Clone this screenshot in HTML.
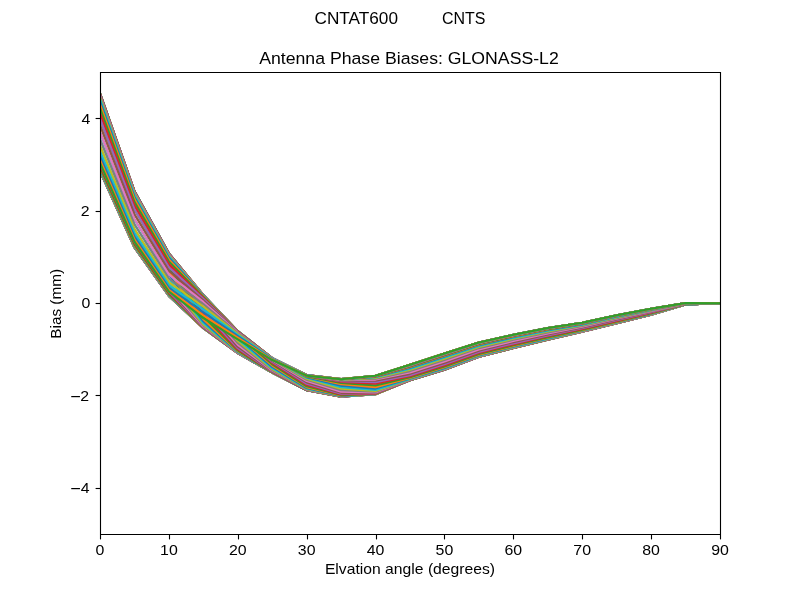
<!DOCTYPE html>
<html><head><meta charset="utf-8"><style>
html,body{margin:0;padding:0;background:#fff;}
svg{display:block;will-change:transform;}
text{font-family:"Liberation Sans", sans-serif;fill:#000;}
</style></head><body>
<svg width="800" height="600" viewBox="0 0 800 600">
<rect width="800" height="600" fill="#fff"/>
<g fill="none" stroke-width="2.083" stroke-linejoin="round" stroke-linecap="square">
<clipPath id="c"><rect x="100" y="72" width="620" height="462"/></clipPath>
<g clip-path="url(#c)">
<polyline points="100.00,162.92 134.44,241.57 168.89,291.52 203.33,318.09 237.78,339.36 272.22,360.05 306.67,375.67 341.11,379.22 375.56,375.76 410.00,364.81 444.44,353.56 478.89,342.55 513.33,334.80 547.78,328.05 582.22,322.75 616.67,315.35 651.11,308.74 685.56,303.04 720.00,303.20" stroke="#1f77b4"/>
<polyline points="100.00,165.15 134.44,243.19 168.89,292.74 203.33,320.42 237.78,341.29 272.22,360.74 306.67,375.92 341.11,379.31 375.56,375.78 410.00,364.80 444.44,353.55 478.89,342.54 513.33,334.79 547.78,328.04 582.22,322.74 616.67,315.34 651.11,308.74 685.56,303.04 720.00,303.20" stroke="#ff7f0e"/>
<polyline points="100.00,166.81 134.44,244.39 168.89,293.65 203.33,322.34 237.78,343.29 272.22,361.62 306.67,376.26 341.11,379.44 375.56,375.82 410.00,364.79 444.44,353.54 478.89,342.54 513.33,334.79 547.78,328.04 582.22,322.74 616.67,315.34 651.11,308.74 685.56,303.04 720.00,303.20" stroke="#2ca02c"/>
<polyline points="100.00,168.04 134.44,245.28 168.89,294.32 203.33,323.85 237.78,345.21 272.22,362.67 306.67,376.71 341.11,379.61 375.56,375.87 410.00,364.80 444.44,353.55 478.89,342.55 513.33,334.80 547.78,328.05 582.22,322.75 616.67,315.35 651.11,308.75 685.56,303.04 720.00,303.20" stroke="#d62728"/>
<polyline points="100.00,168.95 134.44,245.94 168.89,294.82 203.33,325.01 237.78,346.94 272.22,363.88 306.67,377.31 341.11,379.84 375.56,375.95 410.00,364.81 444.44,353.56 478.89,342.56 513.33,334.81 547.78,328.06 582.22,322.76 616.67,315.36 651.11,308.75 685.56,303.05 720.00,303.20" stroke="#9467bd"/>
<polyline points="100.00,169.61 134.44,246.42 168.89,295.19 203.33,325.89 237.78,348.41 272.22,365.19 306.67,378.08 341.11,380.16 375.56,376.06 410.00,364.83 444.44,353.59 478.89,342.59 513.33,334.84 547.78,328.08 582.22,322.78 616.67,315.37 651.11,308.77 685.56,303.05 720.00,303.20" stroke="#8c564b"/>
<polyline points="100.00,170.10 134.44,246.78 168.89,295.45 203.33,326.54 237.78,349.61 272.22,366.50 306.67,379.04 341.11,380.59 375.56,376.20 410.00,364.87 444.44,353.63 478.89,342.62 513.33,334.87 547.78,328.11 582.22,322.80 616.67,315.40 651.11,308.79 685.56,303.05 720.00,303.20" stroke="#e377c2"/>
<polyline points="100.00,170.46 134.44,247.03 168.89,295.65 203.33,327.02 237.78,350.55 272.22,367.75 306.67,380.19 341.11,381.16 375.56,376.40 410.00,364.92 444.44,353.68 478.89,342.67 513.33,334.92 547.78,328.16 582.22,322.84 616.67,315.43 651.11,308.81 685.56,303.06 720.00,303.20" stroke="#7f7f7f"/>
<polyline points="100.00,170.71 134.44,247.22 168.89,295.79 203.33,327.37 237.78,351.26 272.22,368.85 306.67,381.48 341.11,381.90 375.56,376.67 410.00,364.99 444.44,353.76 478.89,342.74 513.33,334.99 547.78,328.22 582.22,322.88 616.67,315.47 651.11,308.85 685.56,303.07 720.00,303.20" stroke="#bcbd22"/>
<polyline points="100.00,170.89 134.44,247.35 168.89,295.89 203.33,327.63 237.78,351.80 272.22,369.78 306.67,382.85 341.11,382.86 375.56,377.03 410.00,365.09 444.44,353.86 478.89,342.84 513.33,335.08 547.78,328.30 582.22,322.95 616.67,315.54 651.11,308.89 685.56,303.08 720.00,303.20" stroke="#17becf"/>
<polyline points="100.00,171.01 134.44,247.44 168.89,295.95 203.33,327.82 237.78,352.20 272.22,370.52 306.67,384.20 341.11,384.03 375.56,377.52 410.00,365.22 444.44,354.01 478.89,342.97 513.33,335.20 547.78,328.42 582.22,323.04 616.67,315.62 651.11,308.96 685.56,303.10 720.00,303.20" stroke="#1f77b4"/>
<polyline points="100.00,171.08 134.44,247.48 168.89,295.99 203.33,327.96 237.78,352.49 272.22,371.10 306.67,385.46 341.11,385.41 375.56,378.17 410.00,365.40 444.44,354.20 478.89,343.15 513.33,335.37 547.78,328.57 582.22,323.16 616.67,315.73 651.11,309.04 685.56,303.12 720.00,303.20" stroke="#ff7f0e"/>
<polyline points="100.00,171.10 134.44,247.50 168.89,296.00 203.33,328.06 237.78,352.70 272.22,371.54 306.67,386.55 341.11,386.94 375.56,379.01 410.00,365.64 444.44,354.47 478.89,343.39 513.33,335.61 547.78,328.78 582.22,323.33 616.67,315.88 651.11,309.16 685.56,303.15 720.00,303.20" stroke="#2ca02c"/>
<polyline points="100.00,171.08 134.44,247.48 168.89,295.99 203.33,328.13 237.78,352.86 272.22,371.86 306.67,387.46 341.11,388.53 375.56,380.08 410.00,365.97 444.44,354.82 478.89,343.72 513.33,335.92 547.78,329.06 582.22,323.56 616.67,316.09 651.11,309.32 685.56,303.20 720.00,303.20" stroke="#d62728"/>
<polyline points="100.00,171.01 134.44,247.44 168.89,295.95 203.33,328.17 237.78,352.98 272.22,372.10 306.67,388.18 341.11,390.08 375.56,381.38 410.00,366.41 444.44,355.30 478.89,344.15 513.33,336.34 547.78,329.44 582.22,323.85 616.67,316.36 651.11,309.53 685.56,303.25 720.00,303.20" stroke="#9467bd"/>
<polyline points="100.00,170.89 134.44,247.35 168.89,295.89 203.33,328.20 237.78,353.06 272.22,372.28 306.67,388.73 341.11,391.48 375.56,382.88 410.00,366.99 444.44,355.94 478.89,344.73 513.33,336.89 547.78,329.94 582.22,324.24 616.67,316.72 651.11,309.81 685.56,303.32 720.00,303.20" stroke="#8c564b"/>
<polyline points="100.00,170.71 134.44,247.22 168.89,295.79 203.33,328.20 237.78,353.12 272.22,372.41 306.67,389.15 341.11,392.69 375.56,384.52 410.00,367.75 444.44,356.75 478.89,345.47 513.33,337.59 547.78,330.57 582.22,324.74 616.67,317.17 651.11,310.15 685.56,303.41 720.00,303.20" stroke="#e377c2"/>
<polyline points="100.00,170.46 134.44,247.03 168.89,295.65 203.33,328.18 237.78,353.16 272.22,372.51 306.67,389.46 341.11,393.67 375.56,386.19 410.00,368.69 444.44,357.77 478.89,346.39 513.33,338.46 547.78,331.35 582.22,325.35 616.67,317.72 651.11,310.57 685.56,303.52 720.00,303.20" stroke="#7f7f7f"/>
<polyline points="100.00,170.10 134.44,246.78 168.89,295.45 203.33,328.15 237.78,353.19 272.22,372.58 306.67,389.69 341.11,394.45 375.56,387.78 410.00,369.83 444.44,358.98 478.89,347.48 513.33,339.48 547.78,332.26 582.22,326.06 616.67,318.36 651.11,311.06 685.56,303.65 720.00,303.20" stroke="#bcbd22"/>
<polyline points="100.00,169.61 134.44,246.42 168.89,295.19 203.33,328.09 237.78,353.20 272.22,372.63 306.67,389.86 341.11,395.04 375.56,389.20 410.00,371.12 444.44,360.36 478.89,348.70 513.33,340.63 547.78,333.27 582.22,326.84 616.67,319.06 651.11,311.58 685.56,303.78 720.00,303.20" stroke="#17becf"/>
<polyline points="100.00,168.95 134.44,245.94 168.89,294.82 203.33,328.01 237.78,353.20 272.22,372.67 306.67,389.98 341.11,395.49 375.56,390.41 410.00,372.50 444.44,361.81 478.89,349.99 513.33,341.82 547.78,334.32 582.22,327.65 616.67,319.78 651.11,312.11 685.56,303.92 720.00,303.20" stroke="#1f77b4"/>
<polyline points="100.00,168.04 134.44,245.28 168.89,294.32 203.33,327.89 237.78,353.18 272.22,372.69 306.67,390.07 341.11,395.82 375.56,391.38 410.00,373.88 444.44,363.26 478.89,351.26 513.33,342.99 547.78,335.33 582.22,328.42 616.67,320.46 651.11,312.62 685.56,304.05 720.00,303.20" stroke="#ff7f0e"/>
<polyline points="100.00,166.81 134.44,244.39 168.89,293.65 203.33,327.72 237.78,353.16 272.22,372.70 306.67,390.14 341.11,396.06 375.56,392.13 410.00,375.17 444.44,364.60 478.89,352.43 513.33,344.07 547.78,336.26 582.22,329.12 616.67,321.07 651.11,313.07 685.56,304.16 720.00,303.20" stroke="#2ca02c"/>
<polyline points="100.00,165.15 134.44,243.19 168.89,292.74 203.33,327.49 237.78,353.11 272.22,372.71 306.67,390.19 341.11,396.24 375.56,392.71 410.00,376.31 444.44,365.77 478.89,353.44 513.33,344.99 547.78,337.05 582.22,329.72 616.67,321.59 651.11,313.45 685.56,304.26 720.00,303.20" stroke="#d62728"/>
<polyline points="100.00,162.92 134.44,241.57 168.89,291.52 203.33,327.18 237.78,353.05 272.22,372.71 306.67,390.22 341.11,396.37 375.56,393.14 410.00,377.25 444.44,366.75 478.89,354.28 513.33,345.75 547.78,337.70 582.22,330.20 616.67,322.01 651.11,313.75 685.56,304.33 720.00,303.20" stroke="#9467bd"/>
<polyline points="100.00,159.97 134.44,239.43 168.89,289.90 203.33,326.76 237.78,352.96 272.22,372.69 306.67,390.24 341.11,396.47 375.56,393.46 410.00,378.01 444.44,367.52 478.89,354.95 513.33,346.35 547.78,338.21 582.22,330.58 616.67,322.34 651.11,313.99 685.56,304.39 720.00,303.20" stroke="#8c564b"/>
<polyline points="100.00,156.16 134.44,236.66 168.89,287.81 203.33,326.19 237.78,352.84 272.22,372.67 306.67,390.26 341.11,396.54 375.56,393.69 410.00,378.59 444.44,368.11 478.89,355.46 513.33,346.80 547.78,338.60 582.22,330.87 616.67,322.59 651.11,314.17 685.56,304.44 720.00,303.20" stroke="#e377c2"/>
<polyline points="100.00,151.38 134.44,233.20 168.89,285.19 203.33,325.42 237.78,352.68 272.22,372.64 306.67,390.26 341.11,396.59 375.56,393.86 410.00,379.03 444.44,368.56 478.89,355.84 513.33,347.15 547.78,338.89 582.22,331.09 616.67,322.77 651.11,314.31 685.56,304.47 720.00,303.20" stroke="#7f7f7f"/>
<polyline points="100.00,145.64 134.44,229.04 168.89,282.05 203.33,324.39 237.78,352.45 272.22,372.60 306.67,390.25 341.11,396.62 375.56,393.99 410.00,379.36 444.44,368.90 478.89,356.13 513.33,347.41 547.78,339.11 582.22,331.25 616.67,322.91 651.11,314.41 685.56,304.50 720.00,303.20" stroke="#bcbd22"/>
<polyline points="100.00,139.12 134.44,224.31 168.89,278.47 203.33,323.03 237.78,352.15 272.22,372.53 306.67,390.24 341.11,396.65 375.56,394.08 410.00,379.60 444.44,369.15 478.89,356.34 513.33,347.59 547.78,339.27 582.22,331.37 616.67,323.01 651.11,314.48 685.56,304.51 720.00,303.20" stroke="#17becf"/>
<polyline points="100.00,132.15 134.44,219.25 168.89,274.65 203.33,321.29 237.78,351.73 272.22,372.44 306.67,390.21 341.11,396.66 375.56,394.15 410.00,379.78 444.44,369.33 478.89,356.49 513.33,347.73 547.78,339.39 582.22,331.46 616.67,323.09 651.11,314.54 685.56,304.53 720.00,303.20" stroke="#1f77b4"/>
<polyline points="100.00,125.18 134.44,214.19 168.89,270.83 203.33,319.14 237.78,351.17 272.22,372.32 306.67,390.18 341.11,396.66 375.56,394.20 410.00,379.91 444.44,369.46 478.89,356.61 513.33,347.84 547.78,339.47 582.22,331.52 616.67,323.14 651.11,314.58 685.56,304.54 720.00,303.20" stroke="#ff7f0e"/>
<polyline points="100.00,118.66 134.44,209.46 168.89,267.25 203.33,316.59 237.78,350.43 272.22,372.16 306.67,390.12 341.11,396.65 375.56,394.23 410.00,380.01 444.44,369.56 478.89,356.69 513.33,347.91 547.78,339.54 582.22,331.57 616.67,323.18 651.11,314.60 685.56,304.55 720.00,303.20" stroke="#2ca02c"/>
<polyline points="100.00,112.92 134.44,205.30 168.89,264.11 203.33,313.73 237.78,349.46 272.22,371.94 306.67,390.05 341.11,396.63 375.56,394.25 410.00,380.08 444.44,369.63 478.89,356.75 513.33,347.97 547.78,339.58 582.22,331.60 616.67,323.21 651.11,314.63 685.56,304.55 720.00,303.20" stroke="#d62728"/>
<polyline points="100.00,108.14 134.44,201.84 168.89,261.49 203.33,310.74 237.78,348.22 272.22,371.64 306.67,389.95 341.11,396.60 375.56,394.26 410.00,380.13 444.44,369.68 478.89,356.80 513.33,348.00 547.78,339.61 582.22,331.63 616.67,323.23 651.11,314.64 685.56,304.55 720.00,303.20" stroke="#9467bd"/>
<polyline points="100.00,104.33 134.44,199.07 168.89,259.40 203.33,307.81 237.78,346.71 272.22,371.24 306.67,389.82 341.11,396.55 375.56,394.26 410.00,380.17 444.44,369.72 478.89,356.83 513.33,348.03 547.78,339.64 582.22,331.64 616.67,323.25 651.11,314.65 685.56,304.56 720.00,303.20" stroke="#8c564b"/>
<polyline points="100.00,101.38 134.44,196.93 168.89,257.78 203.33,305.11 237.78,344.94 272.22,370.70 306.67,389.63 341.11,396.48 375.56,394.24 410.00,380.19 444.44,369.74 478.89,356.85 513.33,348.05 547.78,339.65 582.22,331.65 616.67,323.25 651.11,314.66 685.56,304.56 720.00,303.20" stroke="#e377c2"/>
<polyline points="100.00,99.15 134.44,195.31 168.89,256.56 203.33,302.78 237.78,343.01 272.22,370.01 306.67,389.38 341.11,396.39 375.56,394.22 410.00,380.20 444.44,369.75 478.89,356.86 513.33,348.06 547.78,339.66 582.22,331.66 616.67,323.26 651.11,314.66 685.56,304.56 720.00,303.20" stroke="#7f7f7f"/>
<polyline points="100.00,97.49 134.44,194.11 168.89,255.65 203.33,300.86 237.78,341.01 272.22,369.13 306.67,389.04 341.11,396.26 375.56,394.18 410.00,380.21 444.44,369.76 478.89,356.86 513.33,348.06 547.78,339.66 582.22,331.66 616.67,323.26 651.11,314.66 685.56,304.56 720.00,303.20" stroke="#bcbd22"/>
<polyline points="100.00,96.26 134.44,193.22 168.89,254.98 203.33,299.35 237.78,339.09 272.22,368.08 306.67,388.59 341.11,396.09 375.56,394.13 410.00,380.20 444.44,369.75 478.89,356.85 513.33,348.05 547.78,339.65 582.22,331.65 616.67,323.25 651.11,314.65 685.56,304.56 720.00,303.20" stroke="#17becf"/>
<polyline points="100.00,95.35 134.44,192.56 168.89,254.48 203.33,298.19 237.78,337.36 272.22,366.87 306.67,387.99 341.11,395.86 375.56,394.05 410.00,380.19 444.44,369.74 478.89,356.84 513.33,348.04 547.78,339.64 582.22,331.64 616.67,323.24 651.11,314.65 685.56,304.55 720.00,303.20" stroke="#1f77b4"/>
<polyline points="100.00,94.69 134.44,192.08 168.89,254.11 203.33,297.31 237.78,335.89 272.22,365.56 306.67,387.22 341.11,395.54 375.56,393.94 410.00,380.17 444.44,369.71 478.89,356.81 513.33,348.01 547.78,339.62 582.22,331.62 616.67,323.23 651.11,314.63 685.56,304.55 720.00,303.20" stroke="#ff7f0e"/>
<polyline points="100.00,94.20 134.44,191.72 168.89,253.85 203.33,296.66 237.78,334.69 272.22,364.25 306.67,386.26 341.11,395.11 375.56,393.80 410.00,380.13 444.44,369.67 478.89,356.78 513.33,347.98 547.78,339.59 582.22,331.60 616.67,323.20 651.11,314.61 685.56,304.55 720.00,303.20" stroke="#2ca02c"/>
<polyline points="100.00,93.84 134.44,191.47 168.89,253.65 203.33,296.18 237.78,333.75 272.22,363.00 306.67,385.11 341.11,394.54 375.56,393.60 410.00,380.08 444.44,369.62 478.89,356.73 513.33,347.93 547.78,339.54 582.22,331.56 616.67,323.17 651.11,314.59 685.56,304.54 720.00,303.20" stroke="#d62728"/>
<polyline points="100.00,93.59 134.44,191.28 168.89,253.51 203.33,295.83 237.78,333.04 272.22,361.90 306.67,383.82 341.11,393.80 375.56,393.33 410.00,380.01 444.44,369.54 478.89,356.66 513.33,347.86 547.78,339.48 582.22,331.52 616.67,323.13 651.11,314.55 685.56,304.53 720.00,303.20" stroke="#9467bd"/>
<polyline points="100.00,93.41 134.44,191.15 168.89,253.41 203.33,295.57 237.78,332.50 272.22,360.97 306.67,382.45 341.11,392.84 375.56,392.97 410.00,379.91 444.44,369.44 478.89,356.56 513.33,347.77 547.78,339.40 582.22,331.45 616.67,323.06 651.11,314.51 685.56,304.52 720.00,303.20" stroke="#8c564b"/>
<polyline points="100.00,93.29 134.44,191.06 168.89,253.35 203.33,295.38 237.78,332.10 272.22,360.23 306.67,381.10 341.11,391.67 375.56,392.48 410.00,379.78 444.44,369.29 478.89,356.43 513.33,347.65 547.78,339.28 582.22,331.36 616.67,322.98 651.11,314.44 685.56,304.50 720.00,303.20" stroke="#e377c2"/>
<polyline points="100.00,93.22 134.44,191.02 168.89,253.31 203.33,295.24 237.78,331.81 272.22,359.65 306.67,379.84 341.11,390.29 375.56,391.83 410.00,379.60 444.44,369.10 478.89,356.25 513.33,347.48 547.78,339.13 582.22,331.24 616.67,322.87 651.11,314.36 685.56,304.48 720.00,303.20" stroke="#7f7f7f"/>
<polyline points="100.00,93.20 134.44,191.00 168.89,253.30 203.33,295.14 237.78,331.60 272.22,359.21 306.67,378.75 341.11,388.76 375.56,390.99 410.00,379.36 444.44,368.83 478.89,356.01 513.33,347.24 547.78,338.92 582.22,331.07 616.67,322.72 651.11,314.24 685.56,304.45 720.00,303.20" stroke="#bcbd22"/>
<polyline points="100.00,93.22 134.44,191.02 168.89,253.31 203.33,295.07 237.78,331.44 272.22,358.89 306.67,377.84 341.11,387.17 375.56,389.92 410.00,379.03 444.44,368.48 478.89,355.68 513.33,346.93 547.78,338.64 582.22,330.84 616.67,322.51 651.11,314.08 685.56,304.40 720.00,303.20" stroke="#17becf"/>
<polyline points="100.00,93.29 134.44,191.06 168.89,253.35 203.33,295.03 237.78,331.32 272.22,358.65 306.67,377.12 341.11,385.62 375.56,388.62 410.00,378.59 444.44,368.00 478.89,355.25 513.33,346.51 547.78,338.26 582.22,330.55 616.67,322.24 651.11,313.87 685.56,304.35 720.00,303.20" stroke="#1f77b4"/>
<polyline points="100.00,93.41 134.44,191.15 168.89,253.41 203.33,295.00 237.78,331.24 272.22,358.47 306.67,376.57 341.11,384.22 375.56,387.12 410.00,378.01 444.44,367.36 478.89,354.67 513.33,345.96 547.78,337.76 582.22,330.16 616.67,321.88 651.11,313.59 685.56,304.28 720.00,303.20" stroke="#ff7f0e"/>
<polyline points="100.00,93.59 134.44,191.28 168.89,253.51 203.33,295.00 237.78,331.18 272.22,358.34 306.67,376.15 341.11,383.01 375.56,385.48 410.00,377.25 444.44,366.55 478.89,353.93 513.33,345.26 547.78,337.13 582.22,329.66 616.67,321.43 651.11,313.25 685.56,304.19 720.00,303.20" stroke="#2ca02c"/>
<polyline points="100.00,93.84 134.44,191.47 168.89,253.65 203.33,295.02 237.78,331.14 272.22,358.24 306.67,375.84 341.11,382.03 375.56,383.81 410.00,376.31 444.44,365.53 478.89,353.01 513.33,344.39 547.78,336.35 582.22,329.05 616.67,320.88 651.11,312.83 685.56,304.08 720.00,303.20" stroke="#d62728"/>
<polyline points="100.00,94.20 134.44,191.72 168.89,253.85 203.33,295.05 237.78,331.11 272.22,358.17 306.67,375.61 341.11,381.25 375.56,382.22 410.00,375.17 444.44,364.32 478.89,351.92 513.33,343.37 547.78,335.44 582.22,328.34 616.67,320.24 651.11,312.34 685.56,303.95 720.00,303.20" stroke="#9467bd"/>
<polyline points="100.00,94.69 134.44,192.08 168.89,254.11 203.33,295.11 237.78,331.10 272.22,358.12 306.67,375.44 341.11,380.66 375.56,380.80 410.00,373.88 444.44,362.94 478.89,350.70 513.33,342.22 547.78,334.43 582.22,327.56 616.67,319.54 651.11,311.82 685.56,303.82 720.00,303.20" stroke="#8c564b"/>
<polyline points="100.00,95.35 134.44,192.56 168.89,254.48 203.33,295.19 237.78,331.10 272.22,358.08 306.67,375.32 341.11,380.21 375.56,379.59 410.00,372.50 444.44,361.49 478.89,349.41 513.33,341.03 547.78,333.38 582.22,326.75 616.67,318.82 651.11,311.29 685.56,303.68 720.00,303.20" stroke="#e377c2"/>
<polyline points="100.00,96.26 134.44,193.22 168.89,254.98 203.33,295.31 237.78,331.12 272.22,358.06 306.67,375.23 341.11,379.88 375.56,378.62 410.00,371.12 444.44,360.04 478.89,348.14 513.33,339.86 547.78,332.37 582.22,325.98 616.67,318.14 651.11,310.78 685.56,303.55 720.00,303.20" stroke="#7f7f7f"/>
<polyline points="100.00,97.49 134.44,194.11 168.89,255.65 203.33,295.48 237.78,331.14 272.22,358.05 306.67,375.16 341.11,379.64 375.56,377.87 410.00,369.83 444.44,358.70 478.89,346.97 513.33,338.78 547.78,331.44 582.22,325.28 616.67,317.53 651.11,310.33 685.56,303.44 720.00,303.20" stroke="#bcbd22"/>
<polyline points="100.00,99.15 134.44,195.31 168.89,256.56 203.33,295.71 237.78,331.19 272.22,358.04 306.67,375.11 341.11,379.46 375.56,377.29 410.00,368.69 444.44,357.53 478.89,345.96 513.33,337.86 547.78,330.65 582.22,324.68 616.67,317.01 651.11,309.95 685.56,303.34 720.00,303.20" stroke="#17becf"/>
<polyline points="100.00,101.38 134.44,196.93 168.89,257.78 203.33,296.02 237.78,331.25 272.22,358.04 306.67,375.08 341.11,379.33 375.56,376.86 410.00,367.75 444.44,356.55 478.89,345.12 513.33,337.10 547.78,330.00 582.22,324.20 616.67,316.59 651.11,309.65 685.56,303.27 720.00,303.20" stroke="#1f77b4"/>
<polyline points="100.00,104.33 134.44,199.07 168.89,259.40 203.33,296.44 237.78,331.34 272.22,358.06 306.67,375.06 341.11,379.23 375.56,376.54 410.00,366.99 444.44,355.78 478.89,344.45 513.33,336.50 547.78,329.49 582.22,323.82 616.67,316.26 651.11,309.41 685.56,303.21 720.00,303.20" stroke="#ff7f0e"/>
<polyline points="100.00,108.14 134.44,201.84 168.89,261.49 203.33,297.01 237.78,331.46 272.22,358.08 306.67,375.04 341.11,379.16 375.56,376.31 410.00,366.41 444.44,355.19 478.89,343.94 513.33,336.05 547.78,329.10 582.22,323.53 616.67,316.01 651.11,309.23 685.56,303.16 720.00,303.20" stroke="#2ca02c"/>
<polyline points="100.00,112.92 134.44,205.30 168.89,264.11 203.33,297.78 237.78,331.62 272.22,358.11 306.67,375.04 341.11,379.11 375.56,376.14 410.00,365.97 444.44,354.74 478.89,343.56 513.33,335.70 547.78,328.81 582.22,323.31 616.67,315.83 651.11,309.09 685.56,303.13 720.00,303.20" stroke="#d62728"/>
<polyline points="100.00,118.66 134.44,209.46 168.89,267.25 203.33,298.81 237.78,331.85 272.22,358.15 306.67,375.05 341.11,379.08 375.56,376.01 410.00,365.64 444.44,354.40 478.89,343.27 513.33,335.44 547.78,328.59 582.22,323.15 616.67,315.69 651.11,308.99 685.56,303.10 720.00,303.20" stroke="#9467bd"/>
<polyline points="100.00,125.18 134.44,214.19 168.89,270.83 203.33,300.17 237.78,332.15 272.22,358.22 306.67,375.06 341.11,379.05 375.56,375.92 410.00,365.40 444.44,354.15 478.89,343.06 513.33,335.26 547.78,328.43 582.22,323.03 616.67,315.59 651.11,308.92 685.56,303.09 720.00,303.20" stroke="#8c564b"/>
<polyline points="100.00,132.15 134.44,219.25 168.89,274.65 203.33,301.91 237.78,332.57 272.22,358.31 306.67,375.09 341.11,379.04 375.56,375.85 410.00,365.22 444.44,353.97 478.89,342.91 513.33,335.12 547.78,328.31 582.22,322.94 616.67,315.51 651.11,308.86 685.56,303.07 720.00,303.20" stroke="#e377c2"/>
<polyline points="100.00,139.12 134.44,224.31 168.89,278.47 203.33,304.06 237.78,333.13 272.22,358.43 306.67,375.12 341.11,379.04 375.56,375.80 410.00,365.09 444.44,353.84 478.89,342.79 513.33,335.01 547.78,328.23 582.22,322.88 616.67,315.46 651.11,308.82 685.56,303.06 720.00,303.20" stroke="#7f7f7f"/>
<polyline points="100.00,145.64 134.44,229.04 168.89,282.05 203.33,306.61 237.78,333.87 272.22,358.59 306.67,375.18 341.11,379.05 375.56,375.77 410.00,364.99 444.44,353.74 478.89,342.71 513.33,334.94 547.78,328.16 582.22,322.83 616.67,315.42 651.11,308.80 685.56,303.05 720.00,303.20" stroke="#bcbd22"/>
<polyline points="100.00,151.38 134.44,233.20 168.89,285.19 203.33,309.47 237.78,334.84 272.22,358.81 306.67,375.25 341.11,379.07 375.56,375.75 410.00,364.92 444.44,353.67 478.89,342.65 513.33,334.88 547.78,328.12 582.22,322.80 616.67,315.39 651.11,308.77 685.56,303.05 720.00,303.20" stroke="#17becf"/>
<polyline points="100.00,156.16 134.44,236.66 168.89,287.81 203.33,312.46 237.78,336.08 272.22,359.11 306.67,375.35 341.11,379.10 375.56,375.74 410.00,364.87 444.44,353.62 478.89,342.60 513.33,334.85 547.78,328.09 582.22,322.77 616.67,315.37 651.11,308.76 685.56,303.05 720.00,303.20" stroke="#1f77b4"/>
<polyline points="100.00,159.97 134.44,239.43 168.89,289.90 203.33,315.39 237.78,337.59 272.22,359.51 306.67,375.48 341.11,379.15 375.56,375.74 410.00,364.83 444.44,353.58 478.89,342.57 513.33,334.82 547.78,328.06 582.22,322.76 616.67,315.35 651.11,308.75 685.56,303.04 720.00,303.20" stroke="#ff7f0e"/>
<polyline points="100.00,162.92 134.44,241.57 168.89,291.52 203.33,318.09 237.78,339.36 272.22,360.05 306.67,375.67 341.11,379.22 375.56,375.76 410.00,364.81 444.44,353.56 478.89,342.55 513.33,334.80 547.78,328.05 582.22,322.75 616.67,315.35 651.11,308.74 685.56,303.04 720.00,303.20" stroke="#2ca02c"/>
</g></g>
<path d="M100.5 72.5H720.5V534.5H100.5Z" fill="none" stroke="#000" stroke-width="1.11" stroke-linejoin="miter"/>
<g stroke="#000" stroke-width="1.11">
<line x1="95.6" y1="488.5" x2="100.5" y2="488.5"/>
<line x1="95.6" y1="395.5" x2="100.5" y2="395.5"/>
<line x1="95.6" y1="303.5" x2="100.5" y2="303.5"/>
<line x1="95.6" y1="211.5" x2="100.5" y2="211.5"/>
<line x1="95.6" y1="118.5" x2="100.5" y2="118.5"/>
<line x1="100.5" y1="534.5" x2="100.5" y2="539.4"/>
<line x1="169.5" y1="534.5" x2="169.5" y2="539.4"/>
<line x1="238.5" y1="534.5" x2="238.5" y2="539.4"/>
<line x1="307.5" y1="534.5" x2="307.5" y2="539.4"/>
<line x1="376.5" y1="534.5" x2="376.5" y2="539.4"/>
<line x1="444.5" y1="534.5" x2="444.5" y2="539.4"/>
<line x1="513.5" y1="534.5" x2="513.5" y2="539.4"/>
<line x1="582.5" y1="534.5" x2="582.5" y2="539.4"/>
<line x1="651.5" y1="534.5" x2="651.5" y2="539.4"/>
<line x1="720.5" y1="534.5" x2="720.5" y2="539.4"/>
</g>
<g font-size="13.9">
<text x="90.3" y="124" text-anchor="end" textLength="8.84" lengthAdjust="spacingAndGlyphs">4</text>
<text x="89.6" y="216" text-anchor="end" textLength="8.84" lengthAdjust="spacingAndGlyphs">2</text>
<text x="90.3" y="308" text-anchor="end" textLength="8.84" lengthAdjust="spacingAndGlyphs">0</text>
<text x="89.0" y="401" text-anchor="end" textLength="8.84" lengthAdjust="spacingAndGlyphs">2</text>
<rect x="71.25" y="396.00" width="8.7" height="1.2" fill="#000"/>
<text x="89.6" y="493" text-anchor="end" textLength="8.84" lengthAdjust="spacingAndGlyphs">4</text>
<rect x="71.25" y="488.00" width="8.7" height="1.2" fill="#000"/>
<text x="100.00" y="555" text-anchor="middle" textLength="8.84" lengthAdjust="spacingAndGlyphs">0</text>
<text x="168.89" y="555" text-anchor="middle" textLength="17.68" lengthAdjust="spacingAndGlyphs">10</text>
<text x="237.78" y="555" text-anchor="middle" textLength="17.68" lengthAdjust="spacingAndGlyphs">20</text>
<text x="306.67" y="555" text-anchor="middle" textLength="17.68" lengthAdjust="spacingAndGlyphs">30</text>
<text x="375.56" y="555" text-anchor="middle" textLength="17.68" lengthAdjust="spacingAndGlyphs">40</text>
<text x="444.44" y="555" text-anchor="middle" textLength="17.68" lengthAdjust="spacingAndGlyphs">50</text>
<text x="513.33" y="555" text-anchor="middle" textLength="17.68" lengthAdjust="spacingAndGlyphs">60</text>
<text x="582.22" y="555" text-anchor="middle" textLength="17.68" lengthAdjust="spacingAndGlyphs">70</text>
<text x="651.11" y="555" text-anchor="middle" textLength="17.68" lengthAdjust="spacingAndGlyphs">80</text>
<text x="720.00" y="555" text-anchor="middle" textLength="17.68" lengthAdjust="spacingAndGlyphs">90</text>
</g>
<text x="410" y="573.75" font-size="13.9" text-anchor="middle" textLength="170.2" lengthAdjust="spacingAndGlyphs">Elvation angle (degrees)</text>
<text transform="translate(61,303.85) rotate(-90)" font-size="13.9" text-anchor="middle" textLength="69.7" lengthAdjust="spacingAndGlyphs">Bias (mm)</text>
<text x="409" y="63.8" font-size="16.67" text-anchor="middle" textLength="299.6" lengthAdjust="spacingAndGlyphs">Antenna Phase Biases: GLONASS-L2</text>
<text x="356.25" y="24.2" font-size="16.67" text-anchor="middle" textLength="83.5" lengthAdjust="spacingAndGlyphs">CNTAT600</text>
<text x="463.75" y="24.2" font-size="16.67" text-anchor="middle" textLength="43.5" lengthAdjust="spacingAndGlyphs">CNTS</text>
</svg>
</body></html>
